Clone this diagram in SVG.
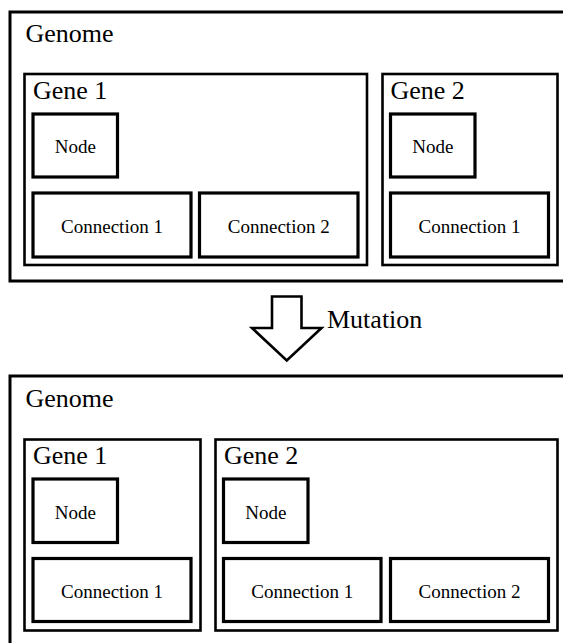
<svg xmlns="http://www.w3.org/2000/svg" width="563" height="643" viewBox="0 0 563 643">
  <style>
    .genome { fill: none; stroke: #000; stroke-width: 3; }
    .gene { fill: none; stroke: #000; stroke-width: 2.6; }
    .part { fill: #fff; stroke: #000; stroke-width: 3.2; }
    .big { font-size: 26px; fill: #000; }
    .small { font-size: 19px; fill: #000; text-anchor: middle; }
    .arrow { fill: #fff; stroke: #000; stroke-width: 2.6; stroke-linejoin: miter; }
  </style>
  <rect width="563" height="643" fill="#fff"/>

  <!-- Genome before mutation -->
  <g id="genome-before">
    <rect class="genome" x="10" y="12" width="600" height="269"/>
    <text class="big" x="25.5" y="42" font-family="Liberation Serif">Genome</text>
  </g>
  <g id="before-gene1">
    <rect class="gene" x="24.5" y="74" width="342.5" height="191"/>
    <text class="big" x="33" y="98.5" font-family="Liberation Serif">Gene 1</text>
  </g>
  <g id="before-gene1-node">
    <rect class="part" x="33" y="114" width="84.5" height="63"/>
    <text class="small" x="75.25" y="153" font-family="Liberation Serif">Node</text>
  </g>
  <g id="before-gene1-conn1">
    <rect class="part" x="33" y="193" width="158" height="64"/>
    <text class="small" x="112" y="232.5" font-family="Liberation Serif">Connection 1</text>
  </g>
  <g id="before-gene1-conn2">
    <rect class="part" x="199.5" y="193" width="158.5" height="64"/>
    <text class="small" x="278.75" y="232.5" font-family="Liberation Serif">Connection 2</text>
  </g>
  <g id="before-gene2">
    <rect class="gene" x="382.5" y="74" width="175" height="191"/>
    <text class="big" x="390.5" y="98.5" font-family="Liberation Serif">Gene 2</text>
  </g>
  <g id="before-gene2-node">
    <rect class="part" x="390.5" y="114" width="84.5" height="63"/>
    <text class="small" x="432.75" y="153" font-family="Liberation Serif">Node</text>
  </g>
  <g id="before-gene2-conn1">
    <rect class="part" x="390.5" y="193" width="158" height="64"/>
    <text class="small" x="469.5" y="232.5" font-family="Liberation Serif">Connection 1</text>
  </g>

  <!-- Mutation step -->
  <g id="connectors">
    <polygon class="arrow" points="272,296.5 301.5,296.5 301.5,328 321.5,328 286.75,360.5 252,328 272,328"/>
    <text class="big" x="327" y="327.5" font-family="Liberation Serif">Mutation</text>
  </g>

  <!-- Genome after mutation -->
  <g id="genome-after">
    <rect class="genome" x="10" y="376" width="600" height="300"/>
    <text class="big" x="25.5" y="407" font-family="Liberation Serif">Genome</text>
  </g>
  <g id="after-gene1">
    <rect class="gene" x="24.5" y="439.5" width="176" height="191"/>
    <text class="big" x="33" y="464" font-family="Liberation Serif">Gene 1</text>
  </g>
  <g id="after-gene1-node">
    <rect class="part" x="33" y="479" width="84.5" height="63.5"/>
    <text class="small" x="75.25" y="518.5" font-family="Liberation Serif">Node</text>
  </g>
  <g id="after-gene1-conn1">
    <rect class="part" x="33" y="558.5" width="158" height="63"/>
    <text class="small" x="112" y="598" font-family="Liberation Serif">Connection 1</text>
  </g>
  <g id="after-gene2">
    <rect class="gene" x="215.5" y="439.5" width="342" height="191"/>
    <text class="big" x="224" y="464" font-family="Liberation Serif">Gene 2</text>
  </g>
  <g id="after-gene2-node">
    <rect class="part" x="223.5" y="479" width="84.5" height="63.5"/>
    <text class="small" x="265.75" y="518.5" font-family="Liberation Serif">Node</text>
  </g>
  <g id="after-gene2-conn1">
    <rect class="part" x="223.5" y="558.5" width="157.5" height="63"/>
    <text class="small" x="302.25" y="598" font-family="Liberation Serif">Connection 1</text>
  </g>
  <g id="after-gene2-conn2">
    <rect class="part" x="390.5" y="558.5" width="158" height="63"/>
    <text class="small" x="469.5" y="598" font-family="Liberation Serif">Connection 2</text>
  </g>
</svg>
